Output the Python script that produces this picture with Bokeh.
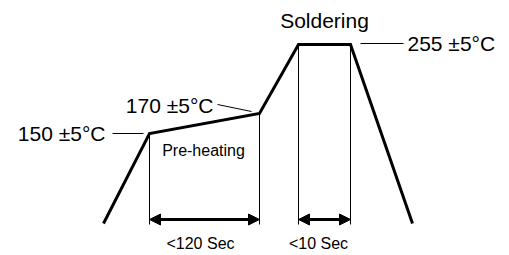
from bokeh.plotting import figure
from bokeh.models import Range1d, Arrow, NormalHead
from bokeh.core.properties import value
from bokeh.embed import file_html
from bokeh.resources import INLINE

# Schematic reflow profile (x: time position, y: temperature position, in drawing units)
profile_x = [95, 141, 251, 290, 342, 404]
profile_y = [24, 114, 134, 203, 203, 24]

# Phase boundary markers
marker_x = [141, 251, 290, 342]
marker_top = [114, 134, 203, 203]
marker_base = 23

# Duration spans
span_start = [141, 290]
span_end = [251, 342]
span_y = 28
span_labels = ["<120 Sec", "<10 Sec"]
span_label_x = [192, 310]
span_label_y = [4, 4]

# Temperature labels
temp_labels = ["150 ±5°C", "170 ±5°C", "255 ±5°C"]
temp_label_x = [97, 205, 399]
temp_label_y = [114, 142, 204]
temp_label_align = ["right", "right", "left"]
leader_x0 = [104, 209, 352]
leader_y0 = [114, 143, 204]
leader_x1 = [135, 243, 395]
leader_y1 = [114, 136, 204]

stage_labels = ["Soldering", "Pre-heating"]
stage_x = [316, 195]
stage_y = [227, 97]
stage_size = ["21px", "16px"]

FONT = value("Liberation Sans")

p = figure(width=509, height=255, output_backend="svg", toolbar_location=None,
           x_range=Range1d(-8, 501), y_range=Range1d(-8, 247), min_border=0)
p.axis.visible = False
p.grid.visible = False
p.outline_line_color = None
p.background_fill_color = "white"
p.border_fill_color = "white"

# profile
p.line(profile_x, profile_y, line_color="black", line_width=3, line_join="miter")

# vertical markers
p.segment(x0=marker_x, y0=[marker_base] * len(marker_x), x1=marker_x, y1=marker_top,
          line_color="black", line_width=1)

# leader lines
p.segment(x0=leader_x0, y0=leader_y0, x1=leader_x1, y1=leader_y1,
          line_color="black", line_width=1)

# duration arrows
for xs, xe in zip(span_start, span_end):
    p.add_layout(Arrow(
        start=NormalHead(size=11, fill_color="black", line_color="black", line_width=1),
        end=NormalHead(size=11, fill_color="black", line_color="black", line_width=1),
        x_start=xs, y_start=span_y, x_end=xe, y_end=span_y,
        line_color="black", line_width=3))

# texts
for t, x, y, a in zip(temp_labels, temp_label_x, temp_label_y, temp_label_align):
    p.text(x=[x], y=[y], text=[t], text_font=FONT, text_font_size="21px",
           text_align=a, text_baseline="middle", text_color="black")

for t, x, y, s in zip(stage_labels, stage_x, stage_y, stage_size):
    p.text(x=[x], y=[y], text=[t], text_font=FONT, text_font_size=s,
           text_align="center", text_baseline="middle", text_color="black")

p.text(x=span_label_x, y=span_label_y, text=span_labels, text_font=FONT,
       text_font_size="16px", text_align="center", text_baseline="middle",
       text_color="black")

open("out.html", "w").write(file_html(p, INLINE))
